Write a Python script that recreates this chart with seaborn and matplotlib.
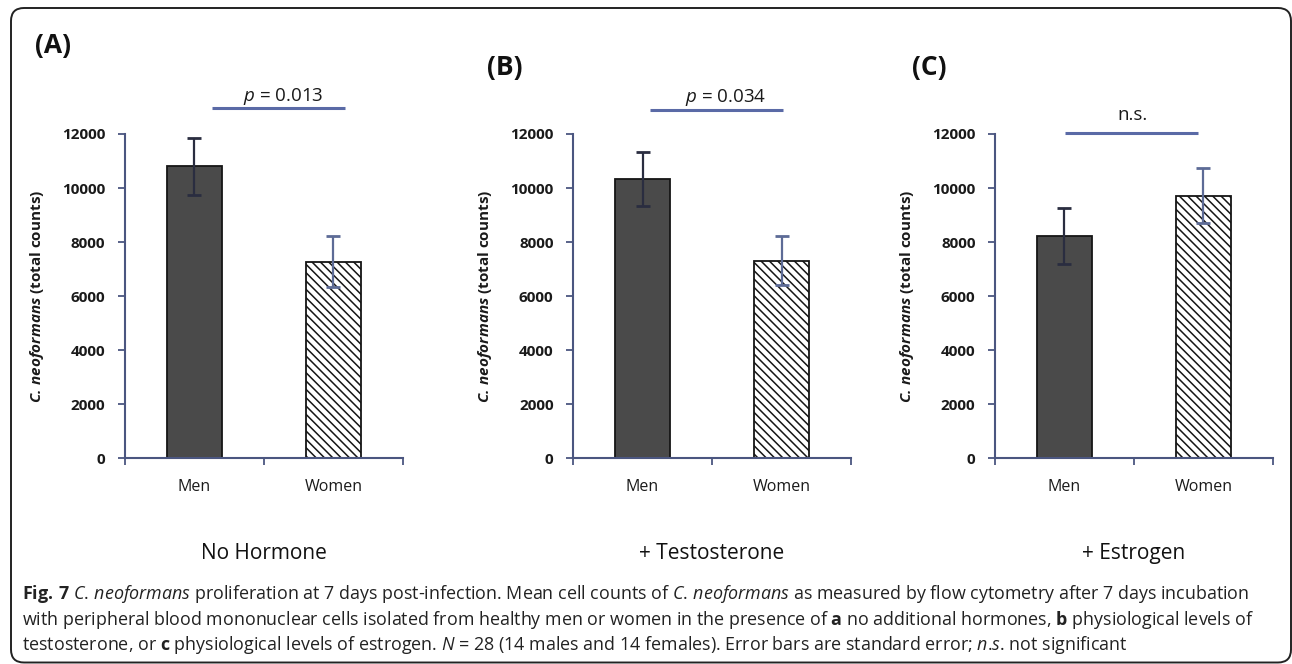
import numpy as np
import pandas as pd
import matplotlib
matplotlib.use("Agg")
import matplotlib.pyplot as plt
from matplotlib.patches import FancyBboxPatch
import seaborn as sns

# values
groups = ["Men", "Women"]
no_hormone = [10800, 7270]
no_hormone_se = [1050, 950]
testosterone = [10330, 7300]
testosterone_se = [1010, 910]
estrogen = [8230, 9720]
estrogen_se = [1040, 1020]

panel_tags = ["(A)", "(B)", "(C)"]
conditions = ["No Hormone", "+ Testosterone", "+ Estrogen"]
sig_labels = [r"$\it{p}$ = 0.013", r"$\it{p}$ = 0.034", "n.s."]
y_ticks = [0, 2000, 4000, 6000, 8000, 10000, 12000]

sns.set_theme(style="white")
plt.rcParams["font.family"] = ["Open Sans", "DejaVu Sans"]
plt.rcParams["mathtext.fontset"] = "custom"
plt.rcParams["mathtext.rm"] = "Open Sans"
plt.rcParams["mathtext.it"] = "Open Sans:italic"
plt.rcParams["mathtext.bf"] = "Open Sans:bold"
plt.rcParams["mathtext.bfit"] = "Open Sans:italic:bold"
plt.rcParams["hatch.linewidth"] = 1.1
plt.rcParams["hatch.color"] = "#111111"

spine_col = "#4b5680"
text_col = "#1a1a1a"

fig = plt.figure(figsize=(12.92, 6.64), dpi=100)

# axes placement (figure fraction)
lefts = [0.0967, 0.4435, 0.7701]
bottom, width, height = 0.3102, 0.2152, 0.488

# significance bar placement in data units: x0, x1, y line, x text, y text
sig_pos = [
    (0.126, 1.083, 12960, 0.637, 13400),
    (0.054, 1.011, 12890, 0.594, 13360),
    (0.004, 0.960, 12040, 0.486, 12720),
]
tag_xy = [(0.027, 0.932), (0.377, 0.899), (0.706, 0.899)]

datasets = [(no_hormone, no_hormone_se), (testosterone, testosterone_se), (estrogen, estrogen_se)]

for i, (vals, se) in enumerate(datasets):
    ax = fig.add_axes([lefts[i], bottom, width, height])
    df = pd.DataFrame({"group": groups, "count": vals})
    sns.barplot(data=df, x="group", y="count", hue="group", palette=["#4a4a4a", "white"],
                width=0.4, edgecolor="#151515", linewidth=1.3, legend=False, ax=ax)
    ax.patches[1].set_hatch("\\\\\\\\")

    err_cols = ["#2a2d40", "#5d6b96"]
    for j in range(len(groups)):
        eb = ax.errorbar(j, vals[j], yerr=se[j], fmt="none", ecolor=err_cols[j],
                         elinewidth=1.6, capsize=5, capthick=2)
        for cl in eb[1]:
            cl.set_color("#1c1c1c")

    ax.set_xlim(-0.5, 1.5)
    ax.set_ylim(0, 12000)
    ax.set_yticks(y_ticks)
    ax.set_yticklabels([str(t) for t in y_ticks], fontsize=11, fontweight="bold", color=text_col)
    ax.set_xticks([0, 1])
    ax.set_xticklabels(groups, fontsize=11.5, color=text_col)
    ax.set_xticks([-0.5, 0.5, 1.5], minor=True)
    ax.tick_params(axis="x", which="major", length=0, pad=15)
    ax.tick_params(axis="x", which="minor", length=5, width=1.3, color=spine_col, direction="out", bottom=True)
    ax.tick_params(axis="y", length=5, width=1.3, color=spine_col, direction="out", left=True, pad=9)
    ax.set_xlabel("")
    ax.set_ylabel(r"$\mathbfit{C.\,neoformans}$ (total counts)", fontsize=11,
                  fontweight="bold", color=text_col)
    ax.yaxis.set_label_coords(-0.285, 0.5)
    for s in ["top", "right"]:
        ax.spines[s].set_visible(False)
    for s in ["left", "bottom"]:
        ax.spines[s].set_color(spine_col)
        ax.spines[s].set_linewidth(1.5)

    x0, x1, yl, xt, yt = sig_pos[i]
    ax.plot([x0, x1], [yl, yl], color="#5a6aa6", lw=2.2, clip_on=False, solid_capstyle="butt")
    ax.text(xt, yt, sig_labels[i], ha="center", va="center", fontsize=13.5, color=text_col)

    fig.text(tag_xy[i][0], tag_xy[i][1], panel_tags[i], fontsize=19, fontweight="bold",
             ha="left", va="center", color="#111111")
    # condition title centred under its panel
    fig.text(lefts[i] + width / 2, 0.167, conditions[i], fontsize=15, ha="center", va="center",
             color="#111111")

caption = [
    r"$\bf{Fig.\,7}$ $\it{C.\,neoformans}$ proliferation at 7 days post-infection. Mean cell counts of "
    r"$\it{C.\,neoformans}$ as measured by flow cytometry after 7 days incubation",
    r"with peripheral blood mononuclear cells isolated from healthy men or women in the presence of "
    r"$\bf{a}$ no additional hormones, $\bf{b}$ physiological levels of",
    r"testosterone, or $\bf{c}$ physiological levels of estrogen. $\it{N}$ = 28 (14 males and 14 females). "
    r"Error bars are standard error; $\it{n}$.$\it{s}$. not significant",
]
cap_y = [0.106, 0.067, 0.028]
for line, y in zip(caption, cap_y):
    fig.text(0.017, y, line, fontsize=12.9, ha="left", va="center", color="#222222")

border = FancyBboxPatch((0.11, 0.015), 12.80, 6.545, boxstyle="round,pad=0,rounding_size=0.13",
                        transform=fig.dpi_scale_trans, fill=False, edgecolor="#222222", lw=1.4)
fig.patches.append(border)

fig.savefig("out.png", dpi=100)
